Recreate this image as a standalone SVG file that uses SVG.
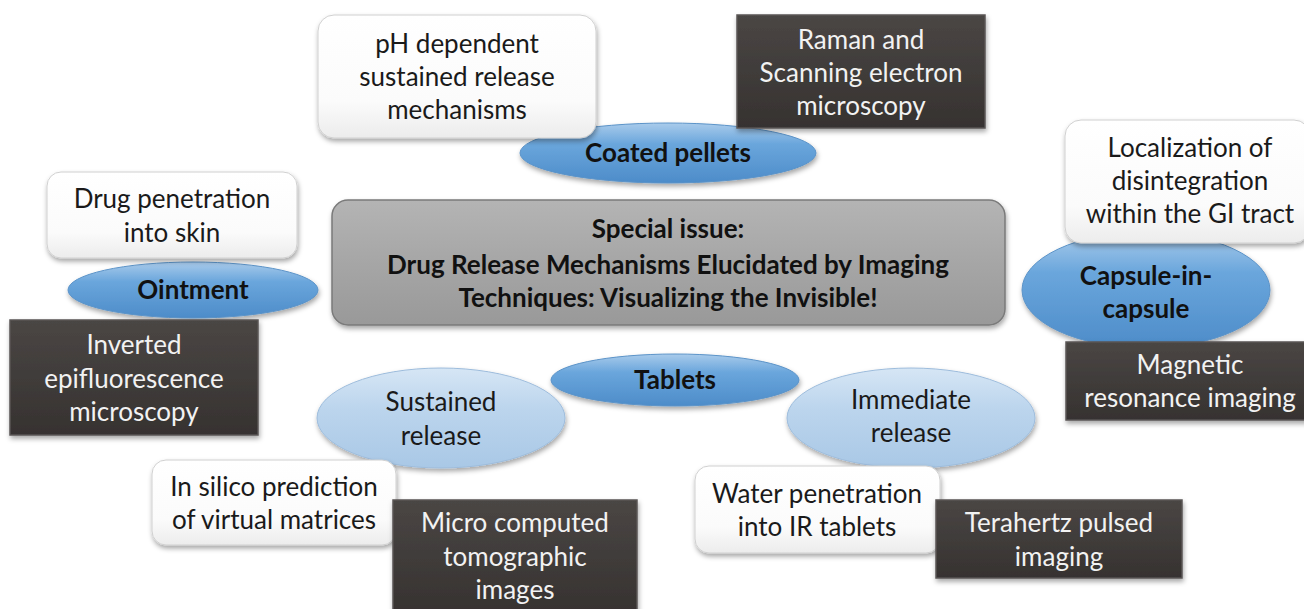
<svg xmlns="http://www.w3.org/2000/svg" width="1304" height="609" viewBox="0 0 1304 609">
<defs>
<linearGradient id="gWhite" x1="0" y1="0" x2="0" y2="1">
<stop offset="0" stop-color="#ffffff"/><stop offset="0.7" stop-color="#fbfbfb"/><stop offset="1" stop-color="#ececec"/>
</linearGradient>
<linearGradient id="gGray" x1="0" y1="0" x2="0" y2="1">
<stop offset="0" stop-color="#b4b4b4"/><stop offset="0.5" stop-color="#a6a6a6"/><stop offset="1" stop-color="#999999"/>
</linearGradient>
<linearGradient id="gBlue" x1="0" y1="0" x2="0" y2="1">
<stop offset="0" stop-color="#a9cbeb"/><stop offset="0.35" stop-color="#6aa6dc"/><stop offset="1" stop-color="#4d8cc9"/>
</linearGradient>
<linearGradient id="gLight" x1="0" y1="0" x2="0" y2="1">
<stop offset="0" stop-color="#d6e6f5"/><stop offset="0.4" stop-color="#bcd5ed"/><stop offset="1" stop-color="#a9c8e6"/>
</linearGradient>
<linearGradient id="gDark" x1="0" y1="0" x2="0" y2="1">
<stop offset="0" stop-color="#4a4644"/><stop offset="1" stop-color="#363230"/>
</linearGradient>
<filter id="sh" x="-10%" y="-10%" width="125%" height="135%">
<feDropShadow dx="1" dy="3" stdDeviation="2.5" flood-color="#000" flood-opacity="0.35"/>
</filter>
</defs>
<style>
.t{font-family:Lato,"Open Sans","Liberation Sans",sans-serif;font-size:26px;text-anchor:middle}
.b{font-family:Lato,"Open Sans","Liberation Sans",sans-serif;font-size:26px;font-weight:bold;text-anchor:middle;fill:#111}
.dk{fill:#f2f2f2}
.bk{fill:#1a1a1a}
.wbox{fill:url(#gWhite);stroke:#d0d0d0;stroke-width:1;filter:url(#sh)}
.dbox{fill:url(#gDark);stroke:#5a5654;stroke-width:1.5;filter:url(#sh)}
.gbox{fill:url(#gGray);stroke:#7a7a7a;stroke-width:1.5;filter:url(#sh)}
.bell{fill:url(#gBlue);stroke:#5b93c8;stroke-width:1;filter:url(#sh)}
.lell{fill:url(#gLight);stroke:#9dbcdc;stroke-width:1;filter:url(#sh)}
</style>
<rect width="1304" height="609" fill="#ffffff"/>
<g id="connectors"></g>

<g id="coated-pellets"><ellipse class="bell" cx="668" cy="153" rx="148" ry="30"/><text class="b" x="668" y="162">Coated pellets</text></g>
<g id="ointment"><ellipse class="bell" cx="193" cy="290" rx="125" ry="28"/><text class="b" x="193" y="299">Ointment</text></g>
<g id="capsule"><ellipse class="bell" cx="1146" cy="290" rx="124" ry="58"/><text class="b" x="1146" y="285">Capsule-in-</text><text class="b" x="1146" y="318">capsule</text></g>
<g id="tablets"><ellipse class="bell" cx="675" cy="380" rx="124" ry="26"/><text class="b" x="675" y="389">Tablets</text></g>
<g id="sustained"><ellipse class="lell" cx="441" cy="418" rx="124" ry="50"/><text class="t bk" x="441" y="411">Sustained</text><text class="t bk" x="441" y="445">release</text></g>
<g id="immediate"><ellipse class="lell" cx="911" cy="418" rx="124" ry="50"/><text class="t bk" x="911" y="409">Immediate</text><text class="t bk" x="911" y="442">release</text></g>

<g id="center"><rect class="gbox" x="332" y="200" width="673" height="125" rx="16"/>
<text class="b" x="668" y="238">Special issue:</text>
<text class="b" x="668" y="274">Drug Release Mechanisms Elucidated by Imaging</text>
<text class="b" x="668" y="307">Techniques: Visualizing the Invisible!</text></g>

<g id="ph"><rect class="wbox" x="318" y="15" width="278" height="123" rx="16"/>
<text class="t bk" x="457" y="53">pH dependent</text><text class="t bk" x="457" y="86">sustained release</text><text class="t bk" x="457" y="119">mechanisms</text></g>
<g id="raman"><rect class="dbox" x="737" y="15" width="248" height="113"/>
<text class="t dk" x="861" y="49">Raman and</text><text class="t dk" x="861" y="82">Scanning electron</text><text class="t dk" x="861" y="115">microscopy</text></g>
<g id="skin"><rect class="wbox" x="47" y="172" width="250" height="86" rx="14"/>
<text class="t bk" x="172" y="208">Drug penetration</text><text class="t bk" x="172" y="242">into skin</text></g>
<g id="inverted"><rect class="dbox" x="10" y="320" width="248" height="115"/>
<text class="t dk" x="134" y="354">Inverted</text><text class="t dk" x="134" y="388">epifluorescence</text><text class="t dk" x="134" y="421">microscopy</text></g>
<g id="local"><rect class="wbox" x="1065" y="120" width="245" height="123" rx="16"/>
<text class="t bk" x="1190" y="157">Localization of</text><text class="t bk" x="1190" y="190">disintegration</text><text class="t bk" x="1190" y="223">within the GI tract</text></g>
<g id="mri"><rect class="dbox" x="1066" y="342" width="245" height="78"/>
<text class="t dk" x="1190" y="374">Magnetic</text><text class="t dk" x="1190" y="407">resonance imaging</text></g>
<g id="silico"><rect class="wbox" x="152" y="460" width="244" height="85" rx="14"/>
<text class="t bk" x="274" y="496">In silico prediction</text><text class="t bk" x="274" y="529">of virtual matrices</text></g>
<g id="micro"><rect class="dbox" x="393" y="500" width="244" height="115"/>
<text class="t dk" x="515" y="532">Micro computed</text><text class="t dk" x="515" y="566">tomographic</text><text class="t dk" x="515" y="599">images</text></g>
<g id="water"><rect class="wbox" x="695" y="466" width="245" height="87" rx="14"/>
<text class="t bk" x="817" y="503">Water penetration</text><text class="t bk" x="817" y="536">into IR tablets</text></g>
<g id="terahertz"><rect class="dbox" x="936" y="500" width="246" height="78"/>
<text class="t dk" x="1059" y="532">Terahertz pulsed</text><text class="t dk" x="1059" y="566">imaging</text></g>
</svg>
